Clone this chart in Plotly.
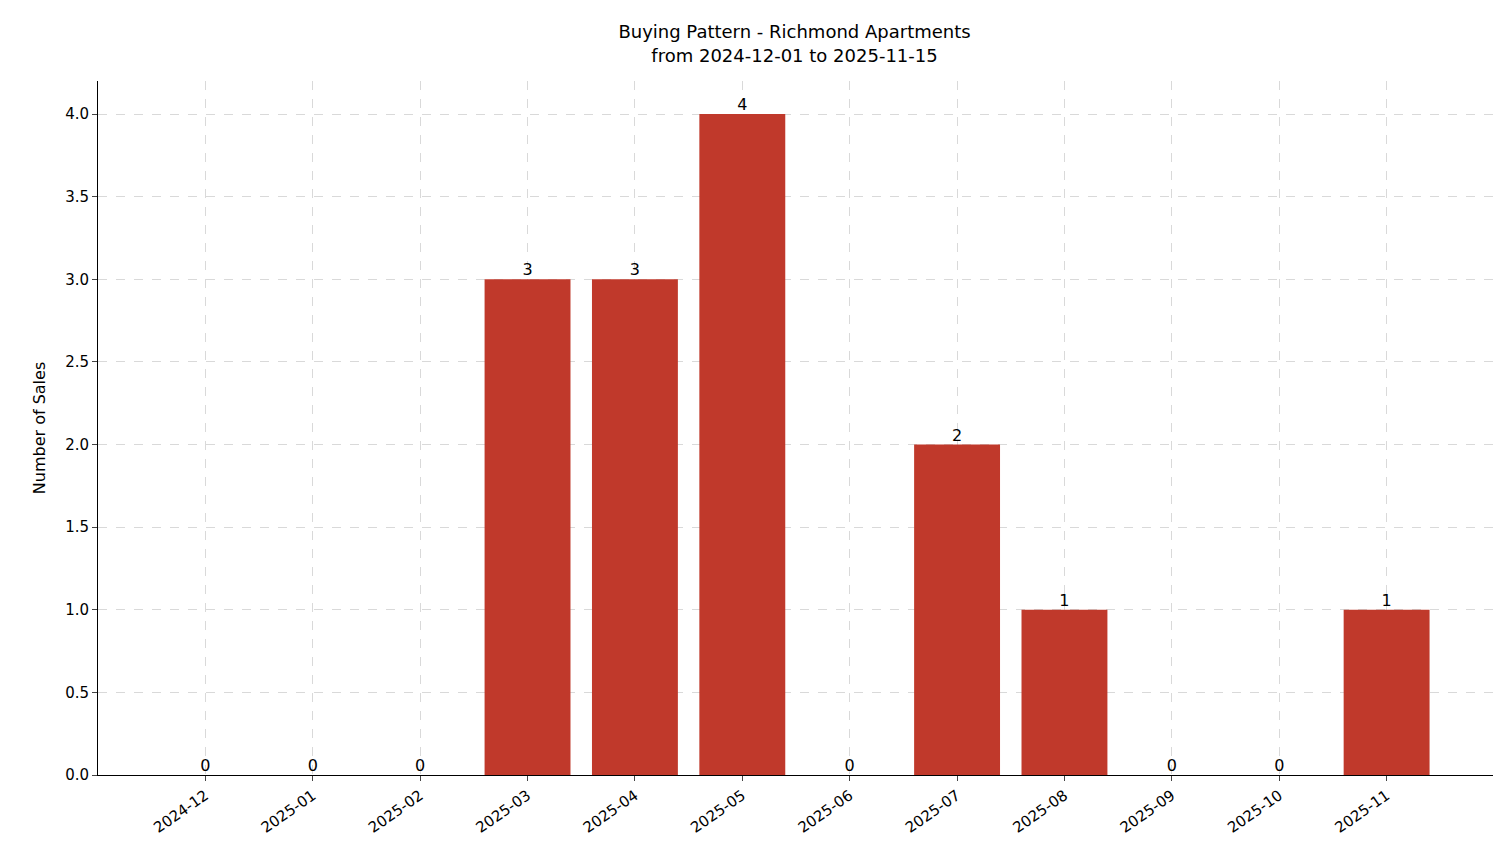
import plotly.graph_objects as go

months = ['2024-12', '2025-01', '2025-02', '2025-03', '2025-04', '2025-05',
          '2025-06', '2025-07', '2025-08', '2025-09', '2025-10', '2025-11']
sales = [0, 0, 0, 3, 3, 4, 0, 2, 1, 0, 0, 1]

x = list(range(len(months)))
fig = go.Figure()
fig.add_trace(go.Bar(x=x, y=sales, width=0.8, marker_color='#c0392b',
                     marker_line_width=0))
fig.add_trace(go.Scatter(x=x, y=sales, mode='text', text=[str(v) for v in sales],
                         textposition='top center', textfont=dict(size=16, color='black'),
                         hoverinfo='skip'))

font = dict(family='DejaVu Sans', color='black')
fig.update_layout(
    width=1501, height=863, showlegend=False,
    plot_bgcolor='white', paper_bgcolor='white', font=font,
    margin=dict(l=90, r=15, t=73, b=96),
    title=dict(text='Buying Pattern - Richmond Apartments<br>from 2024-12-01 to 2025-11-15',
               x=0.524, xanchor='center', y=0.965, yanchor='top', font=dict(size=18)),
    xaxis=dict(range=[-1, 12], tickvals=x, ticktext=months, tickangle=-35,
               tickfont=dict(size=15), showgrid=True, gridcolor='#d9d9d9', griddash='dash',
               showline=True, linecolor='black', ticks='outside', zeroline=False),
    yaxis=dict(range=[0, 4.2], dtick=0.5, tickformat='.1f', tickfont=dict(size=15),
               showgrid=True, gridcolor='#d9d9d9', griddash='dash',
               showline=True, linecolor='black', ticks='outside', zeroline=False,
               title=dict(text='Number of Sales', font=dict(size=16))),
)
fig.write_html('out.html')
